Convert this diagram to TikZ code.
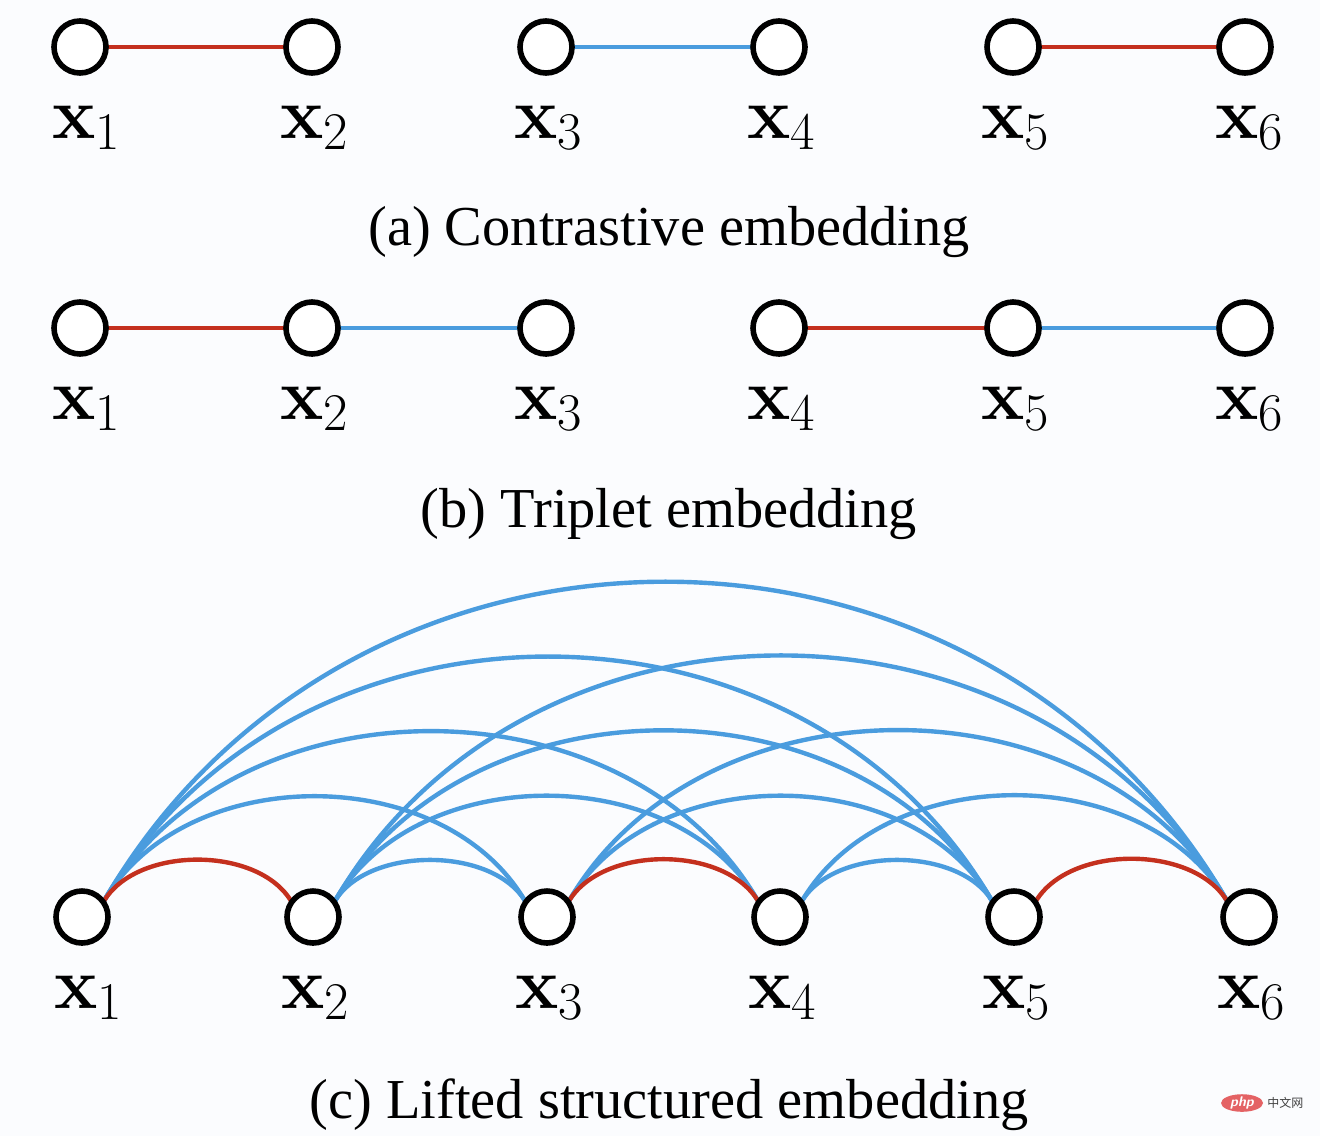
\documentclass[tikz,border=0pt]{standalone}
\usepackage{fontspec}
\setmainfont{Liberation Serif}
\newfontfamily\lmrfam{Latin Modern Roman}
\newfontfamily\cjkfont{Noto Sans CJK SC}
\usetikzlibrary{backgrounds,shapes.geometric}
\definecolor{posred}{RGB}{196,48,30}
\definecolor{negblue}{RGB}{74,156,222}
\definecolor{bgcol}{RGB}{251,252,254}
\definecolor{wmred}{RGB}{228,98,100}
\newcommand\xlab[1]{{\lmrfam\bfseries x}\raisebox{-5.6pt}{\fontsize{26.5}{27}\selectfont\lmrfam #1}}
\begin{document}
\begin{tikzpicture}[x=0.5pt,y=-0.5pt,
  ptnode/.style={circle,draw=black,line width=2.8pt,fill=white,minimum size=26pt,inner sep=0pt,outer sep=0pt},
  labnode/.style={anchor=base,inner sep=0pt,font=\fontsize{36.5}{40}\selectfont},
  captext/.style={anchor=base,inner sep=0pt,font=\fontsize{28.2}{32}\selectfont},
  posline/.style={draw=posred,line width=2.2pt},
  negline/.style={draw=negblue,line width=2.2pt},
  arcc/.style={out=60,in=120}]
\useasboundingbox (0,0) rectangle (1320,1136);

% ---------- (a) contrastive ----------
\node[ptnode] (a1) at (80,47) {};
\node[ptnode] (a2) at (312,47) {};
\node[ptnode] (a3) at (546,47) {};
\node[ptnode] (a4) at (779,47) {};
\node[ptnode] (a5) at (1013,47) {};
\node[ptnode] (a6) at (1245,47) {};
\node[labnode] (la1) at (86,138) {\xlab{1}};
\node[labnode] (la2) at (314,138) {\xlab{2}};
\node[labnode] (la3) at (548,138) {\xlab{3}};
\node[labnode] (la4) at (781,138) {\xlab{4}};
\node[labnode] (la5) at (1015,138) {\xlab{5}};
\node[labnode] (la6) at (1249,138) {\xlab{6}};
\node[captext] (capa) at (669,245) {(a) Contrastive embedding};

% ---------- (b) triplet ----------
\node[ptnode] (b1) at (80,328) {};
\node[ptnode] (b2) at (312,328) {};
\node[ptnode] (b3) at (546,328) {};
\node[ptnode] (b4) at (779,328) {};
\node[ptnode] (b5) at (1013,328) {};
\node[ptnode] (b6) at (1245,328) {};
\node[labnode] (lb1) at (86,419) {\xlab{1}};
\node[labnode] (lb2) at (314,419) {\xlab{2}};
\node[labnode] (lb3) at (548,419) {\xlab{3}};
\node[labnode] (lb4) at (781,419) {\xlab{4}};
\node[labnode] (lb5) at (1015,419) {\xlab{5}};
\node[labnode] (lb6) at (1249,419) {\xlab{6}};
\node[captext] (capb) at (669,527) {(b) Triplet embedding};

% ---------- (c) lifted structured ----------
\node[ptnode] (c1) at (82,917) {};
\node[ptnode] (c2) at (313,917) {};
\node[ptnode] (c3) at (547,917) {};
\node[ptnode] (c4) at (780,917) {};
\node[ptnode] (c5) at (1014,917) {};
\node[ptnode] (c6) at (1249,917) {};
\node[labnode] (lc1) at (88,1008) {\xlab{1}};
\node[labnode] (lc2) at (315,1008) {\xlab{2}};
\node[labnode] (lc3) at (549,1008) {\xlab{3}};
\node[labnode] (lc4) at (782,1008) {\xlab{4}};
\node[labnode] (lc5) at (1016,1008) {\xlab{5}};
\node[labnode] (lc6) at (1251,1008) {\xlab{6}};
\node[captext] (capc) at (669,1118) {(c) Lifted structured embedding};

% watermark
\node[ellipse,fill=wmred,minimum width=21pt,minimum height=7.5pt,inner sep=0pt,text=white,
      font=\fontsize{7}{7}\selectfont\sffamily\bfseries\itshape] (wm) at (1242,1103) {php};
\node[anchor=west,inner sep=0pt,text=black!75,font=\cjkfont\fontsize{6}{6}\selectfont] (wmt) at (1267,1103) {中文网};

\begin{scope}[on background layer]
\fill[bgcol] (0,0) rectangle (1320,1136);
% (a)
\draw[posline] (a1) -- (a2);
\draw[negline] (a3) -- (a4);
\draw[posline] (a5) -- (a6);
% (b)
\draw[posline] (b1) -- (b2);
\draw[negline] (b2) -- (b3);
\draw[posline] (b4) -- (b5);
\draw[negline] (b5) -- (b6);
% (c) negatives
\draw[negline] (c1.35) to[arcc,looseness=1.125] (c6.145);
\draw[negline] (c1.35) to[arcc,looseness=1.09] (c5.145);
\draw[negline] (c2.35) to[arcc,looseness=1.09] (c6.145);
\draw[negline] (c1.35) to[arcc,looseness=1.03] (c4.145);
\draw[negline] (c2.35) to[arcc,looseness=1.03] (c5.145);
\draw[negline] (c3.35) to[arcc,looseness=1.03] (c6.145);
\draw[negline] (c1.35) to[arcc,looseness=0.99] (c3.145);
\draw[negline] (c2.35) to[arcc,looseness=0.99] (c4.145);
\draw[negline] (c3.35) to[arcc,looseness=0.99] (c5.145);
\draw[negline] (c4.35) to[arcc,looseness=0.99] (c6.145);
\draw[negline] (c2.35) to[arcc,looseness=0.87] (c3.145);
\draw[negline] (c4.35) to[arcc,looseness=0.87] (c5.145);
% (c) positives
\draw[posline] (c1.35) to[arcc,looseness=0.89] (c2.145);
\draw[posline] (c3.35) to[arcc,looseness=0.89] (c4.145);
\draw[posline] (c5.35) to[arcc,looseness=0.89] (c6.145);
\end{scope}
\end{tikzpicture}
\end{document}
